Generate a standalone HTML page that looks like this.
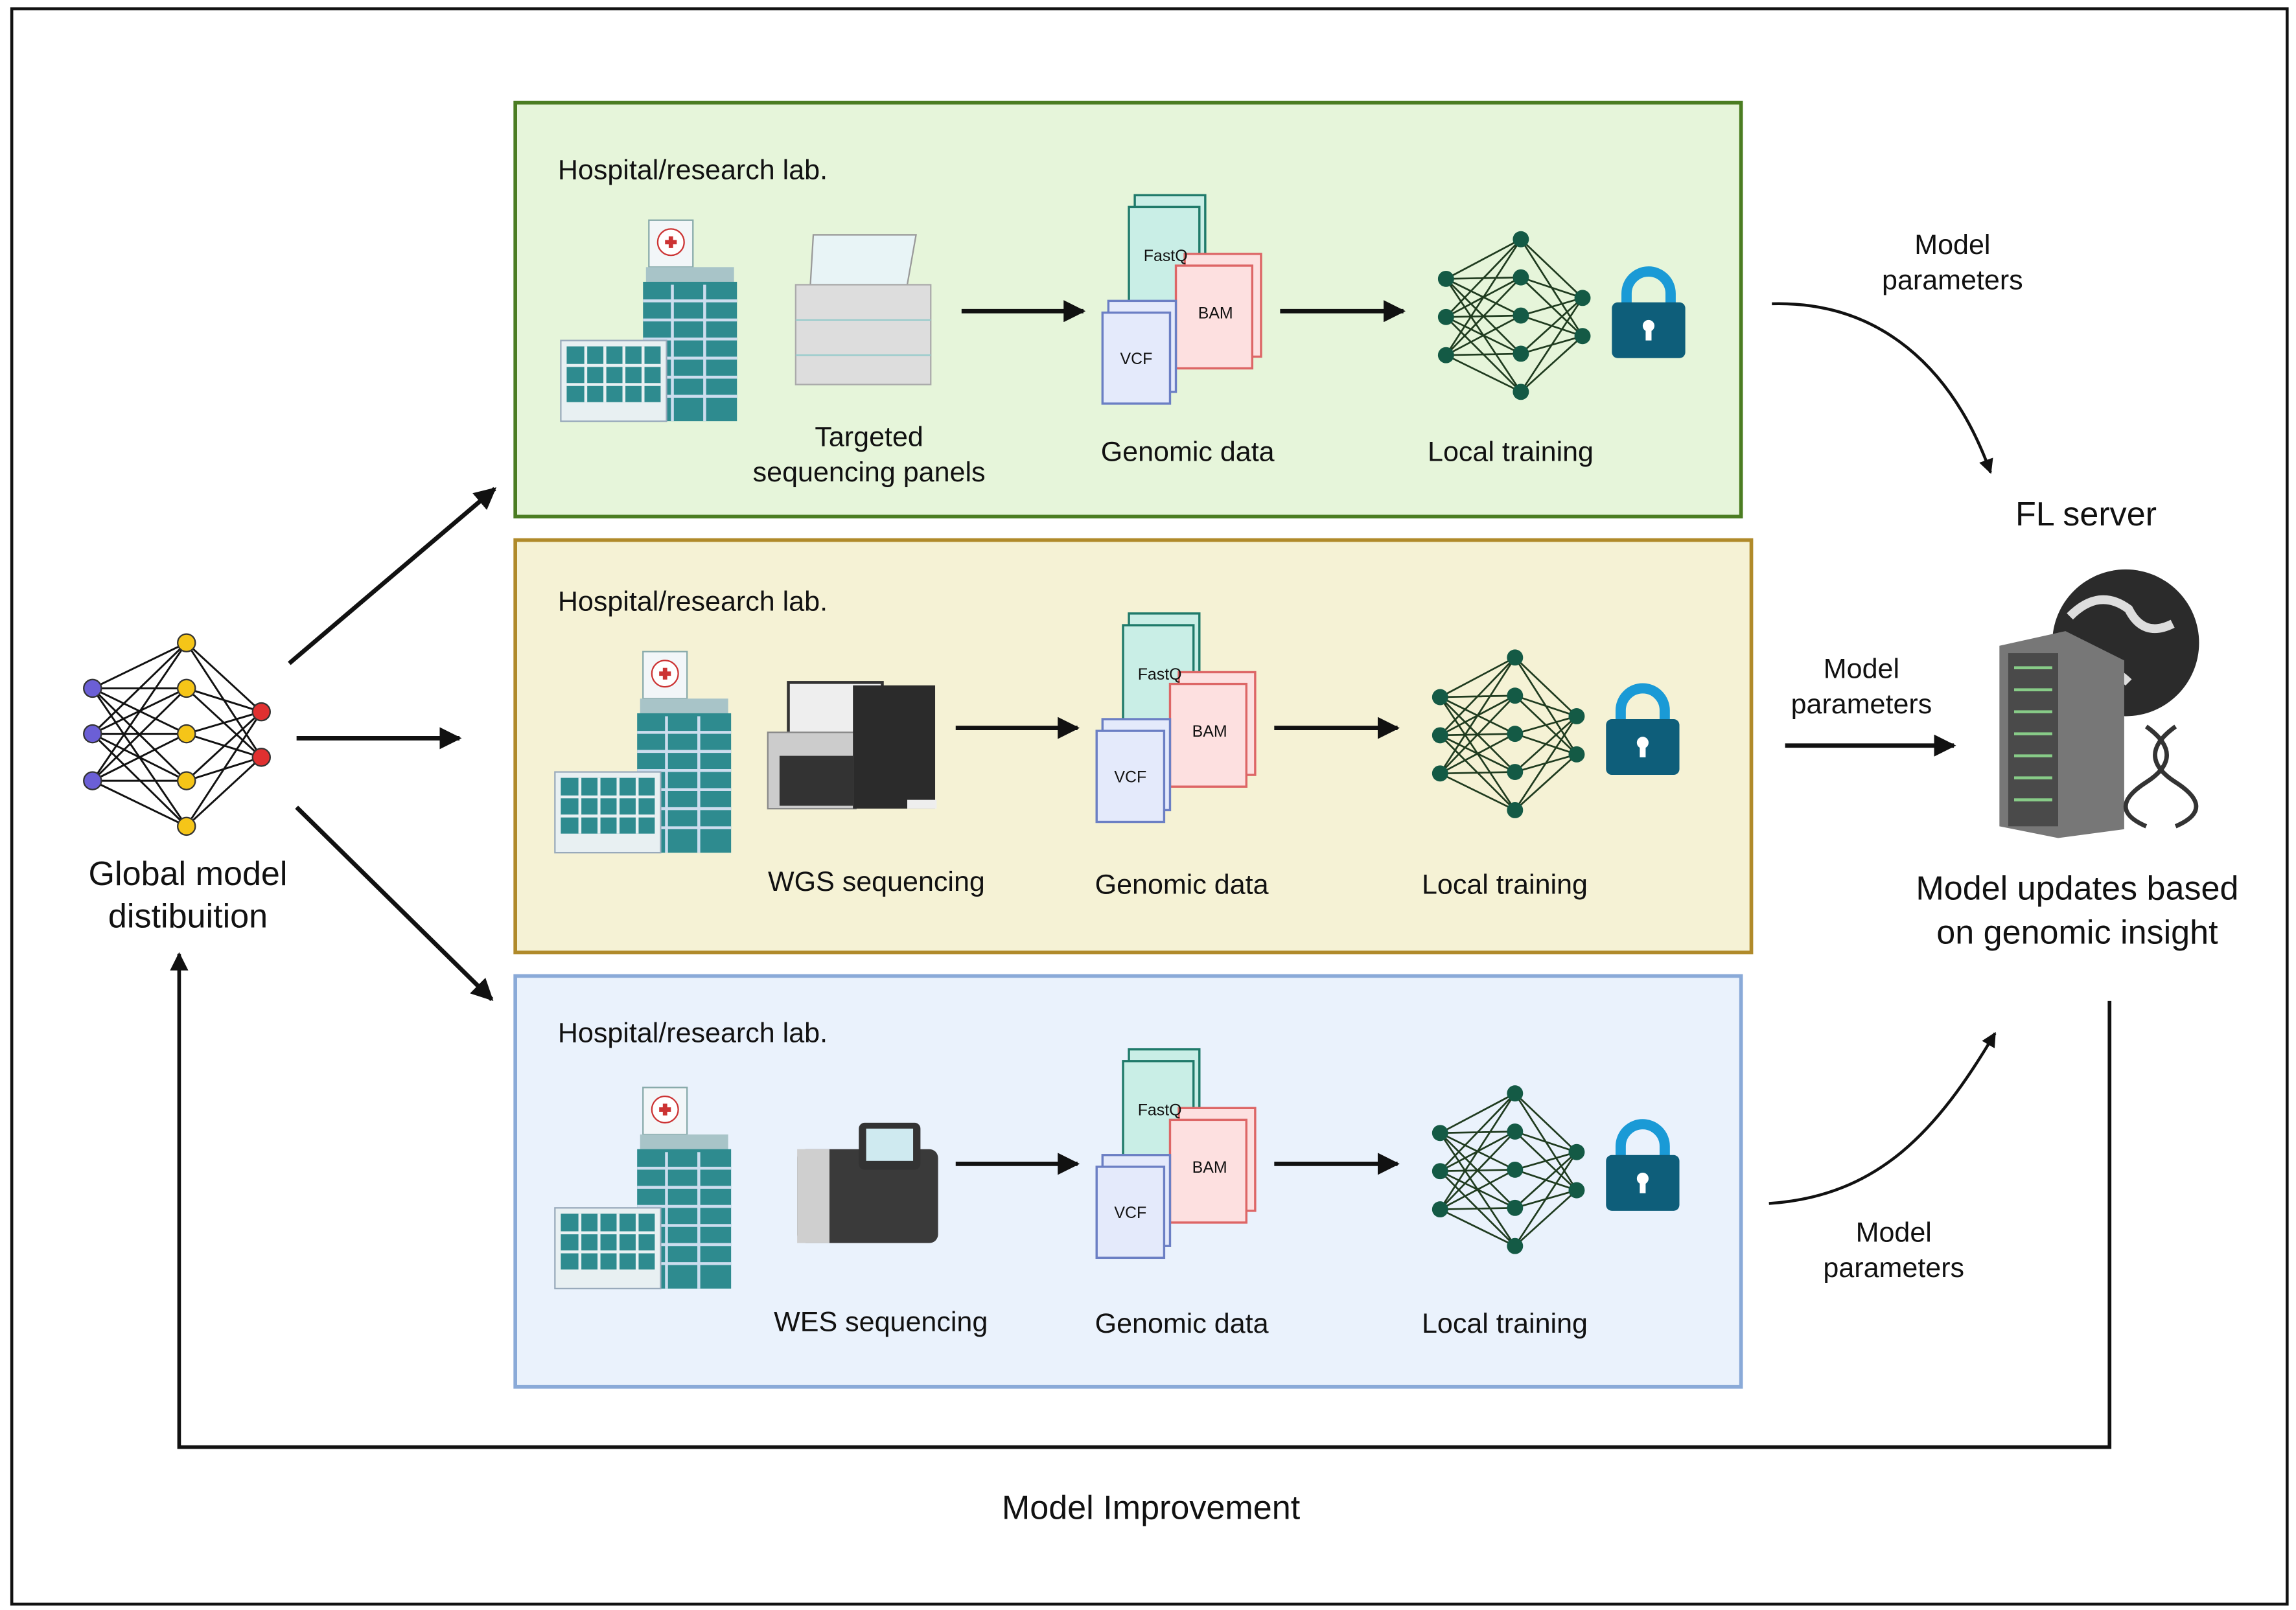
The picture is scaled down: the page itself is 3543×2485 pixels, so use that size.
<!DOCTYPE html>
<html><head><meta charset="utf-8"><style>
html,body{margin:0;padding:0;background:#fff}
svg{display:block}
text{font-family:"Liberation Sans",Arial,sans-serif;fill:#111}
</style></head><body>
<svg width="3543" height="2485" viewBox="0 0 1564 1097" xmlns="http://www.w3.org/2000/svg" xmlns:xlink="http://www.w3.org/1999/xlink">
<defs>
<marker id="ah" viewBox="0 0 10 10" refX="9" refY="5" markerWidth="5" markerHeight="5" orient="auto"><path d="M0,0L10,5L0,10z" fill="#111"/></marker>
<g id="hosp">
 <rect x="60" y="0" width="30" height="32" fill="#f2f6f8" stroke="#8aa" stroke-width="1"/>
 <circle cx="75" cy="15" r="9" fill="#fff" stroke="#c33"/>
 <path d="M71,15h8M75,11v8" stroke="#c33" stroke-width="3"/>
 <rect x="58" y="32" width="60" height="12" fill="#a8c4c8"/>
 <rect x="56" y="42" width="64" height="95" fill="#2e8b8f"/>
 <g stroke="#cde" stroke-width="2"><path d="M56,55h64M56,68h64M56,81h64M56,94h64M56,107h64M56,120h64M76,44v93M98,44v93"/></g>
 <rect x="0" y="82" width="72" height="55" fill="#e8f0f2" stroke="#9ab"/>
 <rect x="4" y="86" width="64" height="38" fill="#2e8b8f"/>
 <g stroke="#e8f0f2" stroke-width="2"><path d="M4,99h64M4,112h64M17,86v38M30,86v38M43,86v38M56,86v38"/></g>
</g>
<g id="files">
 <rect x="22" y="0" width="48" height="66" fill="#c9eee6" stroke="#1f7a6a" stroke-width="1.5"/>
 <rect x="18" y="8" width="48" height="66" fill="#c9eee6" stroke="#1f7a6a" stroke-width="1.5"/>
 <rect x="56" y="40" width="52" height="70" fill="#fde0e0" stroke="#d66" stroke-width="1.5"/>
 <rect x="50" y="48" width="52" height="70" fill="#fde0e0" stroke="#d66" stroke-width="1.5"/>
 <rect x="4" y="72" width="46" height="62" fill="#e4eafb" stroke="#6b7fc4" stroke-width="1.5"/>
 <rect x="0" y="80" width="46" height="62" fill="#e4eafb" stroke="#6b7fc4" stroke-width="1.5"/>
</g>
<g id="net" stroke="#1f3b1f" stroke-width="1.2">
 <path d="M5,27L56,0M5,27L56,26M5,27L56,52M5,27L56,78M5,27L56,104M5,53L56,0M5,53L56,26M5,53L56,52M5,53L56,78M5,53L56,104M5,79L56,0M5,79L56,26M5,79L56,52M5,79L56,78M5,79L56,104M56,0L98,40M56,26L98,40M56,52L98,40M56,78L98,40M56,104L98,40M56,0L98,66M56,26L98,66M56,52L98,66M56,78L98,66M56,104L98,66"/>
 <g fill="#145a45" stroke="none"><circle cx="5" cy="27" r="5.5"/><circle cx="5" cy="53" r="5.5"/><circle cx="5" cy="79" r="5.5"/><circle cx="56" cy="0" r="5.5"/><circle cx="56" cy="26" r="5.5"/><circle cx="56" cy="52" r="5.5"/><circle cx="56" cy="78" r="5.5"/><circle cx="56" cy="104" r="5.5"/><circle cx="98" cy="40" r="5.5"/><circle cx="98" cy="66" r="5.5"/></g>
</g>
<g id="lock">
 <path d="M10,30v-8a15,15 0 0 1 30,0v8" fill="none" stroke="#1a9ad6" stroke-width="7"/>
 <rect x="0" y="28" width="50" height="38" rx="4" fill="#0e5e7a"/>
 <circle cx="25" cy="44" r="4" fill="#fff"/><rect x="23" y="44" width="4" height="10" fill="#fff"/>
</g>
</defs>
<rect x="8" y="6" width="1550" height="1087" fill="#fff" stroke="#111" stroke-width="2"/>

<!-- green -->
<rect x="351" y="70" width="835" height="282" fill="#e6f5da" stroke="#4b7d22" stroke-width="2.5"/>
<text x="380" y="122" font-size="19">Hospital/research lab.</text>
<use xlink:href="#hosp" x="382" y="150"/>
<g transform="translate(542,160)"><path d="M12,0h70l-6,34h-66z" fill="#e8f4f6" stroke="#999"/><rect x="0" y="34" width="92" height="68" fill="#ddd" stroke="#aaa"/><path d="M0,58h92M0,82h92" stroke="#9cc"/></g>
<line x1="655" y1="212" x2="738" y2="212" stroke="#111" stroke-width="3" marker-end="url(#ah)"/>
<use xlink:href="#files" x="751" y="133"/>
<text x="794" y="178" font-size="11" text-anchor="middle">FastQ</text>
<text x="828" y="217" font-size="11" text-anchor="middle">BAM</text>
<text x="774" y="248" font-size="11" text-anchor="middle">VCF</text>
<line x1="872" y1="212" x2="956" y2="212" stroke="#111" stroke-width="3" marker-end="url(#ah)"/>
<use xlink:href="#net" x="980" y="163"/>
<use xlink:href="#lock" x="1098" y="178"/>
<text x="592" y="304" font-size="19" text-anchor="middle">Targeted</text>
<text x="592" y="328" font-size="19" text-anchor="middle">sequencing panels</text>
<text x="809" y="314" font-size="19" text-anchor="middle">Genomic data</text>
<text x="1029" y="314" font-size="19" text-anchor="middle">Local training</text>

<!-- yellow -->
<rect x="351" y="368" width="842" height="281" fill="#f5f2d5" stroke="#b08a2a" stroke-width="2.5"/>
<text x="380" y="416" font-size="19">Hospital/research lab.</text>
<use xlink:href="#hosp" x="378" y="444"/>
<g transform="translate(523,465)"><rect x="14" y="0" width="64" height="36" fill="#eee" stroke="#333" stroke-width="2"/><rect x="0" y="34" width="60" height="52" fill="#ccc" stroke="#888"/><rect x="8" y="50" width="50" height="34" fill="#333"/><rect x="58" y="2" width="56" height="84" fill="#2b2b2b"/><rect x="95" y="80" width="20" height="6" fill="#eee"/></g>
<line x1="651" y1="496" x2="734" y2="496" stroke="#111" stroke-width="3" marker-end="url(#ah)"/>
<use xlink:href="#files" x="747" y="418"/>
<text x="790" y="463" font-size="11" text-anchor="middle">FastQ</text>
<text x="824" y="502" font-size="11" text-anchor="middle">BAM</text>
<text x="770" y="533" font-size="11" text-anchor="middle">VCF</text>
<line x1="868" y1="496" x2="952" y2="496" stroke="#111" stroke-width="3" marker-end="url(#ah)"/>
<use xlink:href="#net" x="976" y="448"/>
<use xlink:href="#lock" x="1094" y="462"/>
<text x="597" y="607" font-size="19" text-anchor="middle">WGS sequencing</text>
<text x="805" y="609" font-size="19" text-anchor="middle">Genomic data</text>
<text x="1025" y="609" font-size="19" text-anchor="middle">Local training</text>

<!-- blue -->
<rect x="351" y="665" width="835" height="280" fill="#eaf2fc" stroke="#8aaad8" stroke-width="2.5"/>
<text x="380" y="710" font-size="19">Hospital/research lab.</text>
<use xlink:href="#hosp" x="378" y="741"/>
<g transform="translate(543,765)"><rect x="0" y="18" width="96" height="64" rx="6" fill="#3a3a3a"/><rect x="0" y="18" width="22" height="64" fill="#cfcfcf"/><rect x="42" y="0" width="42" height="32" rx="4" fill="#333"/><rect x="47" y="4" width="32" height="22" fill="#cfeaf0"/></g>
<line x1="651" y1="793" x2="734" y2="793" stroke="#111" stroke-width="3" marker-end="url(#ah)"/>
<use xlink:href="#files" x="747" y="715"/>
<text x="790" y="760" font-size="11" text-anchor="middle">FastQ</text>
<text x="824" y="799" font-size="11" text-anchor="middle">BAM</text>
<text x="770" y="830" font-size="11" text-anchor="middle">VCF</text>
<line x1="868" y1="793" x2="952" y2="793" stroke="#111" stroke-width="3" marker-end="url(#ah)"/>
<use xlink:href="#net" x="976" y="745"/>
<use xlink:href="#lock" x="1094" y="759"/>
<text x="600" y="907" font-size="19" text-anchor="middle">WES sequencing</text>
<text x="805" y="908" font-size="19" text-anchor="middle">Genomic data</text>
<text x="1025" y="908" font-size="19" text-anchor="middle">Local training</text>

<!-- global network -->
<g stroke="#111" stroke-width="1.3">
<path d="M63,469L127,438M63,469L127,469M63,469L127,500M63,469L127,532M63,469L127,563M63,500L127,438M63,500L127,469M63,500L127,500M63,500L127,532M63,500L127,563M63,532L127,438M63,532L127,469M63,532L127,500M63,532L127,532M63,532L127,563M127,438L178,485M127,469L178,485M127,500L178,485M127,532L178,485M127,563L178,485M127,438L178,516M127,469L178,516M127,500L178,516M127,532L178,516M127,563L178,516"/>
<g stroke="#333" stroke-width="1"><circle cx="63" cy="469" r="6" fill="#6b5fd6"/><circle cx="63" cy="500" r="6" fill="#6b5fd6"/><circle cx="63" cy="532" r="6" fill="#6b5fd6"/>
<circle cx="127" cy="438" r="6" fill="#f5c518"/><circle cx="127" cy="469" r="6" fill="#f5c518"/><circle cx="127" cy="500" r="6" fill="#f5c518"/><circle cx="127" cy="532" r="6" fill="#f5c518"/><circle cx="127" cy="563" r="6" fill="#f5c518"/>
<circle cx="178" cy="485" r="6" fill="#e03030"/><circle cx="178" cy="516" r="6" fill="#e03030"/></g>
</g>
<text x="128" y="603" font-size="23" text-anchor="middle">Global model</text>
<text x="128" y="632" font-size="23" text-anchor="middle">distibuition</text>
<g stroke="#111" stroke-width="3" fill="none">
<line x1="197" y1="452" x2="337" y2="333" marker-end="url(#ah)"/>
<line x1="202" y1="503" x2="313" y2="503" marker-end="url(#ah)"/>
<line x1="202" y1="550" x2="335" y2="681" marker-end="url(#ah)"/>
</g>

<!-- right -->
<text x="1330" y="173" font-size="19" text-anchor="middle">Model</text>
<text x="1330" y="197" font-size="19" text-anchor="middle">parameters</text>
<path d="M1207,207C1280,205 1330,250 1356,322" stroke="#111" stroke-width="2" fill="none" marker-end="url(#ah)"/>
<text x="1421" y="358" font-size="23" text-anchor="middle">FL server</text>
<text x="1268" y="462" font-size="19" text-anchor="middle">Model</text>
<text x="1268" y="486" font-size="19" text-anchor="middle">parameters</text>
<line x1="1216" y1="508" x2="1331" y2="508" stroke="#111" stroke-width="3" marker-end="url(#ah)"/>
<g>
<circle cx="1448" cy="438" r="50" fill="#2b2b2b"/>
<path d="M1410,420q20,-20 40,-5q10,20 30,10M1420,460q15,-10 30,5" stroke="#ddd" stroke-width="6" fill="none"/>
<path d="M1362,440l45,-10l40,20v115l-45,6l-40,-8z" fill="#777"/>
<rect x="1368" y="445" width="34" height="118" fill="#4a4a4a"/>
<g stroke="#8c8" stroke-width="2"><path d="M1372,455h26M1372,470h26M1372,485h26M1372,500h26M1372,515h26M1372,530h26M1372,545h26"/></g>
<path d="M1462,495q28,20 0,38q-28,18 0,30M1482,495q-28,20 0,38q28,18 0,30" stroke="#333" stroke-width="3" fill="none"/>
</g>
<text x="1415" y="613" font-size="23" text-anchor="middle">Model updates based</text>
<text x="1415" y="643" font-size="23" text-anchor="middle">on genomic insight</text>
<path d="M1205,820C1280,815 1320,770 1359,704" stroke="#111" stroke-width="2" fill="none" marker-end="url(#ah)"/>
<text x="1290" y="846" font-size="19" text-anchor="middle">Model</text>
<text x="1290" y="870" font-size="19" text-anchor="middle">parameters</text>

<path d="M1437,682V986H122V650" stroke="#111" stroke-width="2.5" fill="none" marker-end="url(#ah)"/>
<text x="784" y="1035" font-size="23" text-anchor="middle">Model Improvement</text>
</svg>
</body></html>
